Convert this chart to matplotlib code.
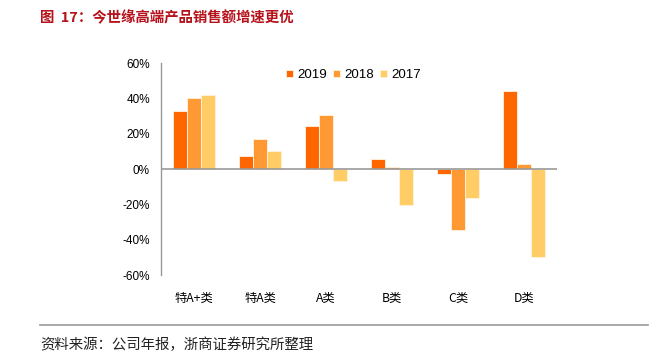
import numpy as np
import matplotlib.pyplot as plt

plt.rcParams['font.family'] = ['Noto Sans CJK SC', 'DejaVu Sans']

categories = ['特A+类', '特A类', 'A类', 'B类', 'C类', 'D类']
years = ['2019', '2018', '2017']
growth_2019 = [33.0, 7.6, 24.1, 5.5, -2.6, 44.1]
growth_2018 = [40.4, 17.0, 30.3, 1.0, -34.7, 3.1]
growth_2017 = [41.7, 10.0, -6.7, -20.1, -16.6, -49.6]
colors = ['#FF6600', '#FF9933', '#FFCC66']

fig = plt.figure(figsize=(6.59, 3.58), dpi=100)
ax = fig.add_axes([0.2443, 0.2318, 0.601, 0.5922])

x = np.arange(len(categories))
w = 0.215
series = [growth_2019, growth_2018, growth_2017]
for i, (vals, c, yr) in enumerate(zip(series, colors, years)):
    ax.bar(x + (i - 1) * w, vals, width=w, color=c, edgecolor='#FFF3E0',
           linewidth=0.6, label=yr, zorder=2)

ax.axhline(0, color='#999999', linewidth=1.2, zorder=3)
ax.set_xlim(-0.5, len(categories) - 0.5)
ax.set_ylim(-60, 60)
ax.set_yticks(np.arange(-60, 61, 20))
ax.set_yticklabels([f'{v}%' for v in range(-60, 61, 20)])
ax.set_xticks(x)
ax.set_xticklabels(categories)
ax.tick_params(axis='y', length=0, pad=8, labelsize=8.5)
ax.tick_params(axis='x', length=0, pad=12, labelsize=8.8)
for lab in ax.get_yticklabels():
    lab.set_family(['Liberation Sans', 'DejaVu Sans'])

for s in ['top', 'right', 'bottom']:
    ax.spines[s].set_visible(False)
ax.spines['left'].set_color('#999999')
ax.spines['left'].set_linewidth(1.0)

ax.legend(loc='center left', bbox_to_anchor=(0.303, 0.943), ncol=3, frameon=False,
          handlelength=0.5, handleheight=0.5, handletextpad=0.3,
          columnspacing=0.5, borderaxespad=0,
          prop={'family': ['Liberation Sans', 'DejaVu Sans'], 'size': 9.6})

fig.text(40 / 659, 1 - 18 / 358, '图  17：今世缘高端产品销售额增速更优', color='#B5121B',
         fontsize=10.4, fontweight='bold', va='center', ha='left')

fig.add_artist(plt.Line2D([40 / 659, 648 / 659], [1 - 325 / 358, 1 - 325 / 358],
                          color='#999999', linewidth=1.2))
fig.text(40 / 659, 1 - 345 / 358, '资料来源：公司年报，浙商证券研究所整理', color='#222222',
         fontsize=10.4, fontweight='light', va='center', ha='left')

fig.savefig('out.png', dpi=100)
